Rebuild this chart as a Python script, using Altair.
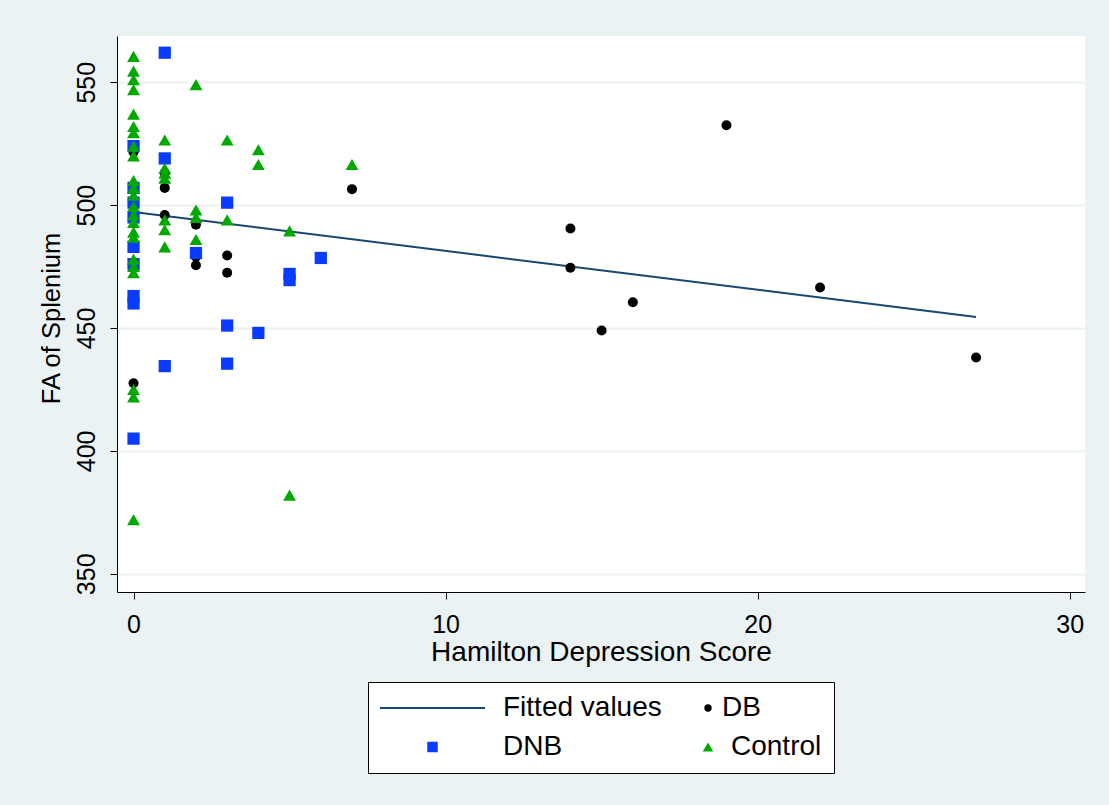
import altair as alt
import pandas as pd

# ---------------- data ----------------
series_names = ["Fitted values", "DB", "DNB", "Control"]
series_colors = ["#1a476f", "#000000", "#0a3cff", "#00a800"]

fit_x = [0, 27]
fit_y = [497.2, 454.5]

db_x = [0, 0, 1, 1, 1, 2, 2, 2, 3, 3, 7, 14, 14, 15, 16, 19, 22, 27]
db_y = [521.5, 427.5, 513, 507, 496, 492, 479, 475.5, 479.5, 472.5, 506.5,
        490.5, 474.5, 449, 460.5, 532.5, 466.5, 438]

dnb_x = [0, 0, 0, 0, 0, 0, 0, 0, 0, 1, 1, 1, 2, 3, 3, 3, 4, 5, 5, 6]
dnb_y = [524, 507, 501, 495, 483, 476, 463, 460, 405, 562, 519, 434.5, 480.5,
         501, 451, 435.5, 448, 472, 469.5, 478.5]

ctrl_x = [0, 0, 0, 0, 0, 0, 0, 0, 0, 0, 0, 0, 0, 0, 0, 0, 0, 0, 0, 0, 0, 0, 0,
          1, 1, 1, 1, 1, 1, 1,
          2, 2, 2, 2,
          3, 3,
          4, 4,
          5, 5,
          7]
ctrl_y = [560.5, 554.5, 551, 547, 537, 532, 529.5, 524, 520, 510, 507, 504,
          499.5, 496, 493, 489, 487, 478, 475, 472.5, 425, 422, 372,
          526.5, 515, 513, 511, 494, 490, 483,
          549, 498, 495, 486,
          526.5, 494,
          522.5, 516.5,
          489.5, 382,
          516.5]

x_ticks = [0, 10, 20, 30]
y_ticks = [350, 400, 450, 500, 550]

fit_df = pd.DataFrame({"x": fit_x, "y": fit_y, "series": "Fitted values"})
db_df = pd.DataFrame({"x": db_x, "y": db_y, "series": "DB"})
dnb_df = pd.DataFrame({"x": dnb_x, "y": dnb_y, "series": "DNB"})
ctrl_df = pd.DataFrame({"x": ctrl_x, "y": ctrl_y, "series": "Control"})

FONT = "Liberation Sans"

x_scale = alt.Scale(domain=[-0.53, 30.49], nice=False, zero=False)
y_scale = alt.Scale(domain=[342.6, 568.8], nice=False, zero=False)
color_scale = alt.Scale(domain=series_names, range=series_colors)

x_axis = alt.Axis(
    title="Hamilton Depression Score", values=x_ticks, grid=False,
    tickSize=7, tickColor="black", tickWidth=1,
    domainColor="black", domainWidth=1,
    labelFont=FONT, labelFontSize=25, labelColor="black",
    labelBaseline="alphabetic", labelPadding=33.7, labelFlush=False,
    titleFont=FONT, titleFontSize=28, titleFontWeight="normal", titleColor="black",
    titleBaseline="alphabetic", titleY=68,
)
y_axis = alt.Axis(
    title="FA of Splenium", values=y_ticks, grid=True,
    gridColor="#EAF2F3", gridWidth=2,
    tickSize=7, tickColor="black", tickWidth=1,
    domainColor="black", domainWidth=1,
    labelFont=FONT, labelFontSize=25, labelColor="black",
    labelAngle=270, labelAlign="center", labelBaseline="alphabetic",
    labelPadding=16, labelFlush=False, labelOverlap=False,
    titleFont=FONT, titleFontSize=25.5, titleFontWeight="normal", titleColor="black",
    titleAngle=270, titleAlign="center", titleBaseline="alphabetic",
    titleX=-58, titleY=282,
)

legend = alt.Legend(
    title=None, orient="none", legendX=251, legendY=646,
    direction="horizontal", columns=2, columnPadding=38, rowPadding=11,
    padding=12, fillColor="white", strokeColor="black", cornerRadius=0,
    labelFont=FONT, labelFontSize=28, labelColor="black", labelLimit=400,
)

# per-entry legend key styling (Stata-like key: long line for the fit)
is_col1 = "(datum.value === 'Fitted values' || datum.value === 'DNB')"
legend_encode = {
    "symbols": {
        "update": {
            "shape": {"signal": "datum.value === 'Fitted values' ? 'stroke' : datum.value === 'DB' ? 'circle' : datum.value === 'DNB' ? 'square' : 'triangle-up'"},
            "size": {"signal": "datum.value === 'Fitted values' ? 11025 : datum.value === 'DB' ? 55 : 110"},
            "fill": {"scale": "color", "field": "value"},
            "stroke": {"scale": "color", "field": "value"},
            "strokeWidth": {"signal": "datum.value === 'Fitted values' ? 2 : 0"},
            "opacity": {"value": 1},
            "x": {"signal": is_col1 + " ? 52.5 : 8"},
        }
    },
    "labels": {
        "update": {
            "x": {"signal": is_col1 + " ? 123 : datum.value === 'DB' ? 22 : 31"},
        }
    },
}


def enc():
    return dict(
        x=alt.X("x:Q", scale=x_scale, axis=x_axis),
        y=alt.Y("y:Q", scale=y_scale, axis=y_axis),
        color=alt.Color("series:N", scale=color_scale, legend=legend),
    )


line = alt.Chart(fit_df).mark_line(strokeWidth=2).encode(**enc())
db = alt.Chart(db_df).mark_point(filled=True, shape="circle", size=100,
                                 opacity=1, strokeWidth=0).encode(**enc())
dnb = alt.Chart(dnb_df).mark_point(filled=True, shape="square", size=150,
                                   opacity=1, strokeWidth=0).encode(**enc())
ctrl = alt.Chart(ctrl_df).mark_point(filled=True, shape="triangle-up", size=165,
                                     opacity=1, strokeWidth=0).encode(**enc())

chart = alt.layer(line, db, dnb, ctrl).properties(
    width=968, height=556,
    background="#EAF2F3",
    padding={"left": 117, "top": 36, "right": 24, "bottom": 213},
    autosize=alt.AutoSizeParams(type="none"),
).configure_view(fill="white", strokeWidth=0)


def _inject(obj):
    if isinstance(obj, dict):
        for k, v in obj.items():
            if k == "legend" and isinstance(v, dict):
                v["encode"] = legend_encode
            else:
                _inject(v)
    elif isinstance(obj, list):
        for v in obj:
            _inject(v)


_orig_to_dict = chart.to_dict


def _patched_to_dict(*args, **kwargs):
    d = _orig_to_dict(*args, **kwargs)
    _inject(d)
    return d


object.__setattr__(chart, "to_dict", _patched_to_dict)

chart.save("out.html", embed_options={"renderer": "svg", "actions": False})
